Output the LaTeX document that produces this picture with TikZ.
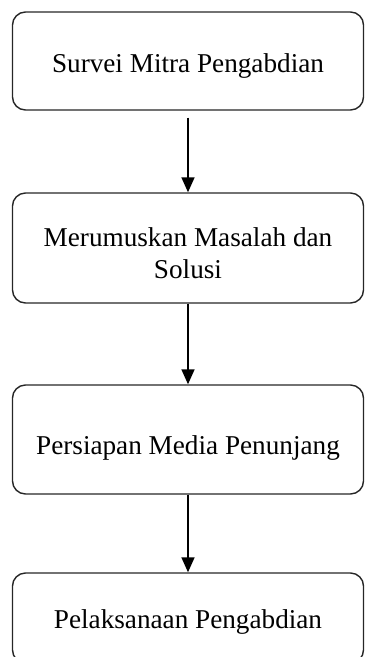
\documentclass[tikz,border=0pt]{standalone}
\usepackage{fontspec}
\setmainfont{Liberation Serif}
\usetikzlibrary{arrows.meta}
\newcommand{\lowerby}[2]{\raisebox{-#1}[\height][\depth]{#2}}
\begin{document}
\begin{tikzpicture}[x=1pt,y=-1pt,
  stepbox/.style={draw=black!85, line width=1.4pt, rounded corners=13pt,
    minimum width=351pt, align=center, font=\fontsize{27.2}{32}\selectfont, inner sep=0pt},
  flow/.style={line width=1.6pt, -{Triangle[width=13pt,length=15pt]}}]
\useasboundingbox (0,0) rectangle (367,657);
\clip (0,0) rectangle (367,657);
\node[stepbox, minimum height=98pt] (s1) at (188,61) {\lowerby{5pt}{Survei Mitra Pengabdian}};
\node[stepbox, minimum height=110pt] (s2) at (188,248) {\lowerby{8pt}{\begin{tabular}{@{}c@{}}Merumuskan Masalah dan\\Solusi\end{tabular}}};
\node[stepbox, minimum height=109pt] (s3) at (188,439.5) {\lowerby{8pt}{Persiapan Media Penunjang}};
\node[stepbox, minimum height=90pt] (s4) at (188,618) {\lowerby{4pt}{Pelaksanaan Pengabdian}};
\draw[flow] ([yshift=-7pt]s1.south) -- (s2.north);
\draw[flow] (s2.south) -- (s3.north);
\draw[flow] (s3.south) -- (s4.north);
\end{tikzpicture}
\end{document}
